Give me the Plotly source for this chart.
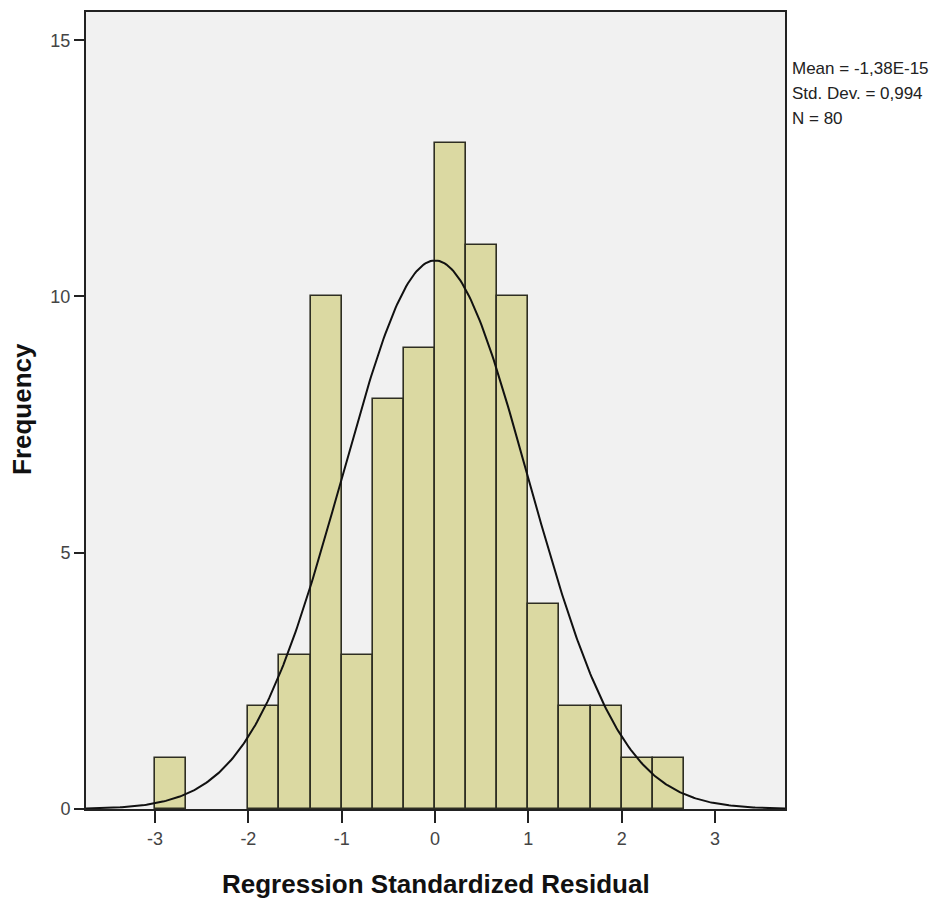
import numpy as np
import plotly.graph_objects as go

# Histogram bins (left edges) and counts
bin_left = [-3.0, -2.0, -5/3, -4/3, -1.0, -2/3, -1/3, 0.0, 1/3, 2/3, 1.0, 4/3, 5/3, 2.0, 7/3]
counts = [1, 2, 3, 10, 3, 8, 9, 13, 11, 10, 4, 2, 2, 1, 1]
bin_width = 1/3

# Summary statistics shown on the chart
mean_val = -1.38e-15
std_val = 0.994
n_val = 80
stats_lines = ["Mean = -1,38E-15", "Std. Dev. = 0,994", "N = 80"]

x_ticks = [-3, -2, -1, 0, 1, 2, 3]
y_ticks = [0, 5, 10, 15]

centers = [b + bin_width / 2 for b in bin_left]

# Fitted normal curve (as drawn by SPSS from mean, sd, N and bin width)
xc = np.linspace(-3.75, 3.75, 400)
yc = n_val * bin_width / (std_val * np.sqrt(2 * np.pi)) * np.exp(-0.5 * ((xc - mean_val) / std_val) ** 2)

FONT = "Liberation Sans, Arial, sans-serif"

# plot area in pixels
L, T, W, H = 86, 10, 699, 799

def px_x(p):
    return (p - L) / W

def px_y(p):
    return (T + H - p) / H

fig = go.Figure()
fig.add_trace(go.Bar(
    x=centers, y=counts, width=bin_width,
    marker=dict(color="#dbd9a2", line=dict(color="#2e2e22", width=1.6)),
    hoverinfo="x+y",
))
fig.add_trace(go.Scatter(
    x=xc, y=yc, mode="lines",
    line=dict(color="#111111", width=2),
    hoverinfo="skip",
))

fig.update_layout(
    width=948, height=908,
    margin=dict(l=L, r=948 - L - W, t=T, b=908 - T - H),
    paper_bgcolor="white",
    plot_bgcolor="#f1f1f1",
    showlegend=False,
    bargap=0,
    xaxis=dict(
        range=[-3.74, 3.75],
        tickmode="array", tickvals=x_ticks, ticktext=[str(v) for v in x_ticks],
        ticks="outside", ticklen=12, tickwidth=1.5, tickcolor="#222",
        showline=True, linecolor="#222", linewidth=2, mirror=True,
        showgrid=False, zeroline=False,
        tickfont=dict(family=FONT, size=18, color="#444"),
    ),
    yaxis=dict(
        range=[0, 15.55],
        tickmode="array", tickvals=y_ticks, ticktext=[str(v) for v in y_ticks],
        ticks="outside", ticklen=10, tickwidth=1.5, tickcolor="#222",
        showline=True, linecolor="#222", linewidth=2, mirror=True,
        showgrid=False, zeroline=False,
        tickfont=dict(family=FONT, size=18, color="#444"),
    ),
)

# axis titles
fig.add_annotation(
    xref="paper", yref="paper", x=px_x(436), y=px_y(884),
    xanchor="center", yanchor="middle", showarrow=False,
    text="<b>Regression Standardized Residual</b>",
    font=dict(family=FONT, size=26, color="#111"),
)
fig.add_annotation(
    xref="paper", yref="paper", x=px_x(22), y=px_y(408),
    xanchor="center", yanchor="middle", showarrow=False, textangle=-90,
    text="<b>Frequency</b>",
    font=dict(family=FONT, size=26, color="#111"),
)

# statistics box text
for i, t in enumerate(stats_lines):
    fig.add_annotation(
        xref="paper", yref="paper", x=px_x(790), y=px_y(55 + i * 25),
        xanchor="left", yanchor="top", text=t, showarrow=False,
        font=dict(family=FONT, size=17, color="#222"), align="left",
    )

fig.write_html("out.html")
